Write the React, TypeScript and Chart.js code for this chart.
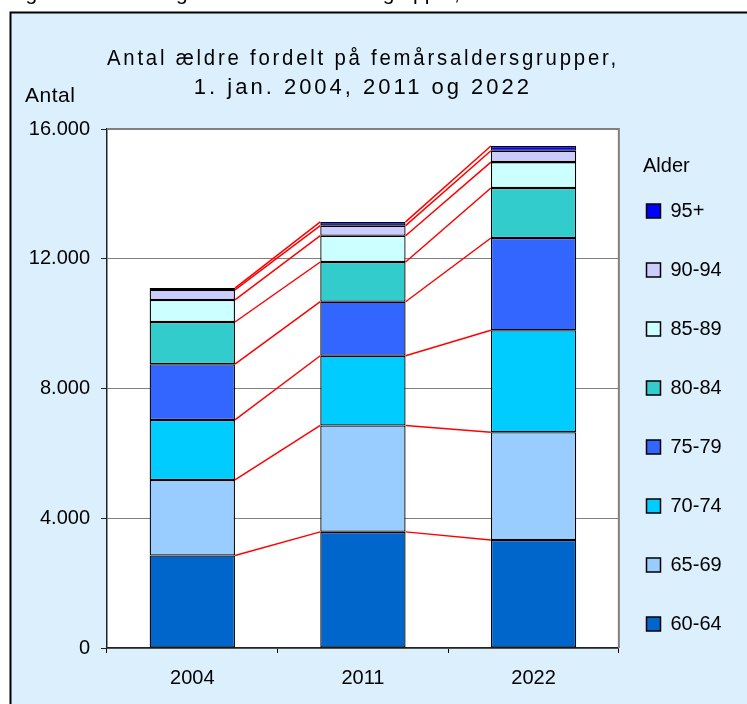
import { useEffect, useRef } from 'react';
import { Chart, registerables } from 'chart.js';

Chart.register(...registerables);

// ---- data ----
const years = ['2004', '2011', '2022'];
const ageGroups = ['60-64', '65-69', '70-74', '75-79', '80-84', '85-89', '90-94', '95+'];
const age60_64 = [2850, 3580, 3330];
const age65_69 = [2330, 3280, 3320];
const age70_74 = [1850, 2150, 3145];
const age75_79 = [1720, 1665, 2845];
const age80_84 = [1300, 1225, 1540];
const age85_89 = [680, 810, 800];
const age90_94 = [310, 310, 350];
const age95p = [55, 115, 145];
const groupColors = ['#0066CC', '#99CCFF', '#00CCFF', '#3366FF', '#33CCCC', '#CCFFFF', '#CCCCFF', '#0000FF'];
const yTickValues = [0, 4000, 8000, 12000, 16000];
const yTickLabels = ['0', '4.000', '8.000', '12.000', '16.000'];
const titleLines = ['Antal ældre fordelt på femårsaldersgrupper,', '1. jan. 2004, 2011 og 2022'];
const captionText = 'Figur 1.1. Udvikling i antal ældre i aldersgrupper,';
const yAxisLabel = 'Antal';
const legendTitle = 'Alder';

const FONT = '"Liberation Sans", Arial, sans-serif';
const BG = '#DBEFFD';
const LEG_PAD = 39;

const seriesValues = [age60_64, age65_69, age70_74, age75_79, age80_84, age85_89, age90_94, age95p];

const framePlugin = {
  id: 'framePlugin',
  afterLayout(chart: any) {
    const lg = chart.legend;
    if (lg) {
      const w = lg.width;
      lg.left = 646.5 - LEG_PAD;
      lg.right = lg.left + w;
      lg.top = 201 - LEG_PAD;
    }
  },
  beforeDraw(chart: any) {
    const { ctx, chartArea: a, width, height } = chart;
    ctx.save();
    ctx.fillStyle = '#ffffff';
    ctx.fillRect(0, 0, width, height);
    ctx.fillStyle = BG;
    ctx.fillRect(10, 12, width, height);
    ctx.strokeStyle = '#000';
    ctx.lineWidth = 2;
    ctx.strokeRect(10.5, 12.5, width + 20, height + 20);
    ctx.fillStyle = '#000';
    ctx.textAlign = 'left';
    ctx.textBaseline = 'alphabetic';
    ctx.font = '21px ' + FONT;
    ctx.fillText(captionText, 8, 0);
    ctx.fillStyle = '#fff';
    ctx.fillRect(a.left, a.top, a.right - a.left, a.bottom - a.top);
    ctx.fillStyle = '#000';
    ctx.font = '21px ' + FONT;
    (ctx as any).letterSpacing = '0.5px';
    ctx.fillText(yAxisLabel, 25, 102);
    (ctx as any).letterSpacing = '0px';
    ctx.font = '20px ' + FONT;
    ctx.fillText(legendTitle, 643, 172);
    ctx.restore();
    const tb = chart.titleBlock;
    if (tb && !tb.__wrapped) {
      const orig = tb.draw.bind(tb);
      tb.draw = (area: any) => {
        const c = chart.ctx;
        c.save();
        c.letterSpacing = '3px';
        orig(area);
        c.restore();
      };
      tb.__wrapped = true;
    }
  },
  beforeDatasetsDraw(chart: any) {
    const { ctx, chartArea: a } = chart;
    ctx.save();
    ctx.strokeStyle = '#808080';
    ctx.lineWidth = 2;
    ctx.beginPath();
    ctx.moveTo(a.left, a.top);
    ctx.lineTo(a.right, a.top);
    ctx.lineTo(a.right, a.bottom);
    ctx.stroke();
    ctx.restore();
  },
  afterDatasetsDraw(chart: any) {
    const { ctx } = chart;
    ctx.save();
    ctx.strokeStyle = '#FF0000';
    ctx.lineWidth = 1.5;
    chart.data.datasets.forEach((_: any, d: number) => {
      const els = chart.getDatasetMeta(d).data;
      for (let i = 0; i < els.length - 1; i++) {
        const e1 = els[i];
        const e2 = els[i + 1];
        ctx.beginPath();
        ctx.moveTo(e1.x + e1.width / 2, e1.y);
        ctx.lineTo(e2.x - e2.width / 2, e2.y);
        ctx.stroke();
      }
    });
    ctx.restore();
  },
};

export default function App() {
  const ref = useRef<HTMLCanvasElement>(null);
  useEffect(() => {
    document.body.style.margin = '0';
    const chart = new Chart(ref.current!, {
      type: 'bar',
      data: {
        labels: years,
        datasets: ageGroups.map((g, i) => ({
          label: g,
          data: seriesValues[i],
          backgroundColor: groupColors[i],
          borderColor: '#000',
          borderWidth: 1.3,
          borderSkipped: false,
          barPercentage: 0.5,
          categoryPercentage: 1,
        })),
      },
      options: {
        responsive: false,
        animation: false,
        events: [],
        layout: { padding: { top: 0, left: 0, right: 4, bottom: 0 } },
        scales: {
          x: {
            stacked: true,
            afterFit: (s: any) => { s.height = 56; },
            grid: { display: true, drawOnChartArea: false, drawTicks: true, tickLength: 5, color: '#000', offset: true },
            border: { color: '#222', width: 1.5 },
            ticks: { color: '#000', font: { family: FONT, size: 20 }, padding: 13, maxRotation: 0 },
          },
          y: {
            stacked: true,
            min: 0,
            max: 16000,
            afterFit: (s: any) => { s.width = 107; },
            afterBuildTicks: (s: any) => { s.ticks = yTickValues.map((v) => ({ value: v })); },
            grid: { color: '#808080', lineWidth: 1, tickLength: 6, tickColor: '#222' },
            border: { color: '#222', width: 1.5 },
            ticks: {
              color: '#000',
              font: { family: FONT, size: 20 },
              padding: 11,
              callback: (v: any) => {
                const k = yTickValues.indexOf(Number(v));
                return k >= 0 ? yTickLabels[k] : '';
              },
            },
          },
        },
        plugins: {
          tooltip: { enabled: false },
          title: {
            display: true,
            text: titleLines,
            fullSize: false,
            color: '#000',
            font: { family: FONT, size: 22, weight: 'normal', lineHeight: 29 / 22 },
            padding: { top: 44.5, bottom: 26.5 },
          },
          legend: {
            display: true,
            position: 'right',
            align: 'start',
            reverse: true,
            labels: {
              color: '#000',
              font: { family: FONT, size: 20 },
              boxWidth: 14,
              boxHeight: 14,
              padding: LEG_PAD,
              generateLabels: (c: any) => {
                const items = (Chart.defaults.plugins.legend.labels as any).generateLabels(c);
                items.forEach((it: any) => { it.lineWidth = 1.5; it.strokeStyle = '#000'; });
                return items;
              },
            },
          },
        },
      } as any,
      plugins: [framePlugin as any],
    });
    return () => chart.destroy();
  }, []);
  return <canvas ref={ref} width={747} height={704} style={{ display: 'block', width: 747, height: 704 }} />;
}
